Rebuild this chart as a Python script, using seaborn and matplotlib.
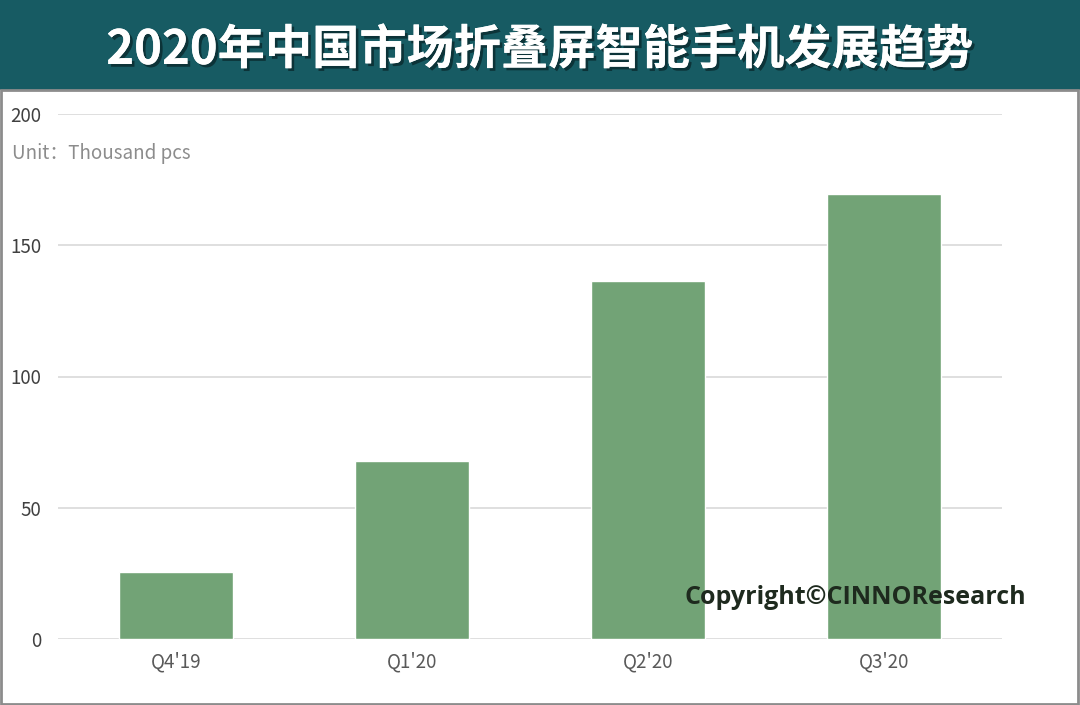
import matplotlib
matplotlib.use('Agg')
import matplotlib.pyplot as plt
import matplotlib.patheffects as pe
import seaborn as sns
import pandas as pd
from matplotlib.patches import Rectangle

quarters = ["Q4'19", "Q1'20", "Q2'20", "Q3'20"]
shipments = [25.5, 68, 136.5, 169.5]
yticks = [0, 50, 100, 150, 200]

title = "2020年中国市场折叠屏智能手机发展趋势"
unit_text = "Unit：Thousand pcs"
copyright_text = "Copyright©CINNOResearch"

sns.set_theme(style="white")
plt.rcParams['font.family'] = ['Noto Sans CJK SC', 'DejaVu Sans']

df = pd.DataFrame({'quarter': quarters, 'value': shipments})

fig = plt.figure(figsize=[10.8, 7.05], dpi=100)
fig.patch.set_facecolor('white')

# banner and frame
fig.patches.append(Rectangle((0, 1 - 90 / 705), 1, 90 / 705, transform=fig.transFigure,
                             facecolor='#175b63', edgecolor='none', zorder=0))
fig.patches.append(Rectangle((0.001, 0.002), 0.997, 1 - 90 / 705 - 0.002, transform=fig.transFigure,
                             facecolor='none', edgecolor='#8c8c8c', linewidth=2, zorder=0))

fig.text(0.5, 1 - 50 / 705, title, ha='center', va='center', color='white',
         fontsize=34, fontweight='bold', family=['Noto Sans CJK SC', 'DejaVu Sans'],
         path_effects=[pe.withSimplePatchShadow(offset=(2, -2), shadow_rgbFace='#0a2a2e', alpha=0.8),
                       pe.Normal()])

ax = fig.add_axes([58 / 1080, 1 - 639 / 705, (1002 - 58) / 1080, (639 - 114) / 705])
sns.barplot(data=df, x='quarter', y='value', color='#72a376', saturation=1, width=0.48, ax=ax, zorder=3)

ax.set_xlim(-0.5, 3.5)
ax.set_ylim(0, 200)
ax.set_yticks(yticks)
ax.set_yticklabels([str(t) for t in yticks])
ax.yaxis.grid(True, color='#d9d9d9', linewidth=1.2, zorder=0)
ax.set_axisbelow(True)
for s in ax.spines.values():
    s.set_visible(False)
ax.set_xlabel('')
ax.set_ylabel('')
ax.tick_params(axis='both', length=0, labelsize=13.5, colors='#595959')
ax.tick_params(axis='y', pad=12, colors='#404040')
ax.tick_params(axis='x', pad=9)

fig.text(12 / 1080, 1 - 154 / 705, unit_text, ha='left', va='center', color='#8c8c8c', fontsize=13.5)
fig.text(1026 / 1080, 1 - 597 / 705, copyright_text, ha='right', va='center', color='#1e2a1e',
         fontsize=18, fontweight='bold', family=['Open Sans', 'DejaVu Sans'])

fig.savefig('out.png', dpi=100)
plt.close()
